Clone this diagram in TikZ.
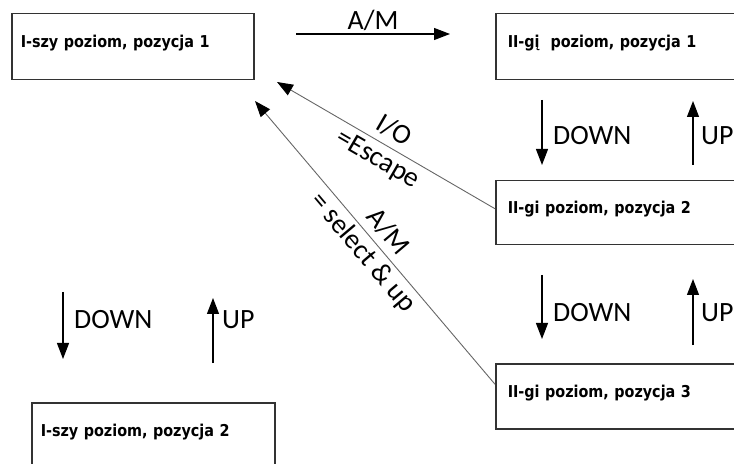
\documentclass[tikz,border=0pt]{standalone}
\usepackage{fontspec}
\setmainfont{Carlito}
\newfontfamily\boxfont{DejaVu Sans}[FakeStretch=0.88]
\usetikzlibrary{arrows.meta}

\tikzset{
  menubox/.style={draw=black!80, line width=1.5bp, anchor=north west,
    text width=#1, align=left, inner xsep=12bp, minimum height=65bp,
    text height=12bp, text depth=10bp,
    font=\boxfont\bfseries\fontsize{16.4}{19}\selectfont},
  lbl/.style={font=\fontsize{28}{32}\selectfont, inner sep=2bp},
  arr/.style={-{Triangle[length=16bp,width=12bp]}, line width=1.2bp},
  diag/.style={-{Triangle[length=16bp,width=12bp,color=black]},
    draw=black!60, line width=0.9bp}
}

\begin{document}
\begin{tikzpicture}[x=1bp, y=-1bp]
\useasboundingbox (0,0) rectangle (734,464);
\clip (0,0) rectangle (734,464);

\node[menubox=224bp, inner xsep=9bp, minimum height=66bp] (p11) at (11,13)
  {I-szy poziom, pozycja 1};
\node[menubox=260bp, minimum height=66bp] (p21) at (495,13)
  {II-gį\ \ poziom, pozycja 1};
\node[menubox=260bp, minimum height=64bp] (p22) at (495,180)
  {II-gi poziom, pozycja 2};
\node[menubox=260bp] (p23) at (495,363)
  {II-gi poziom, pozycja 3};
\node[menubox=225bp, inner xsep=9bp] (p12) at (31,402)
  {I-szy poziom, pozycja 2};

\coordinate (am0) at (296,34);
\coordinate (am1) at (450,34);
\draw[arr] (am0) -- (am1) node[lbl, midway, above, inner sep=3bp] {A/M};

\foreach \n/\x/\ya/\yb/\ly/\dx/\t in {d1/542/100/165/136/9/DOWN, u1/693/165/101/136/6/UP,
                                      d2/542/275/339/313/9/DOWN, u2/693/345/279/313/6/UP,
                                      d3/63/292/359/320/9/DOWN,  u3/213/363/298/320/7/UP}
{
  \coordinate (\n a) at (\x,\ya);
  \coordinate (\n b) at (\x,\yb);
  \draw[arr] (\n a) -- (\n b);
  \node[lbl, anchor=west] (\n l) at (\x+\dx,\ly) {\t};
}

\coordinate (io) at (277,82);
\coordinate (sel) at (255,101);
\draw[diag] ([yshift=4bp]p22.west) -- (io)
  node[lbl, midway, sloped, align=center] {I/O\\=Escape};
\draw[diag] ([yshift=12bp]p23.west) -- (sel)
  node[lbl, midway, sloped, align=center] {A/M\\= select \& up};
\end{tikzpicture}
\end{document}
